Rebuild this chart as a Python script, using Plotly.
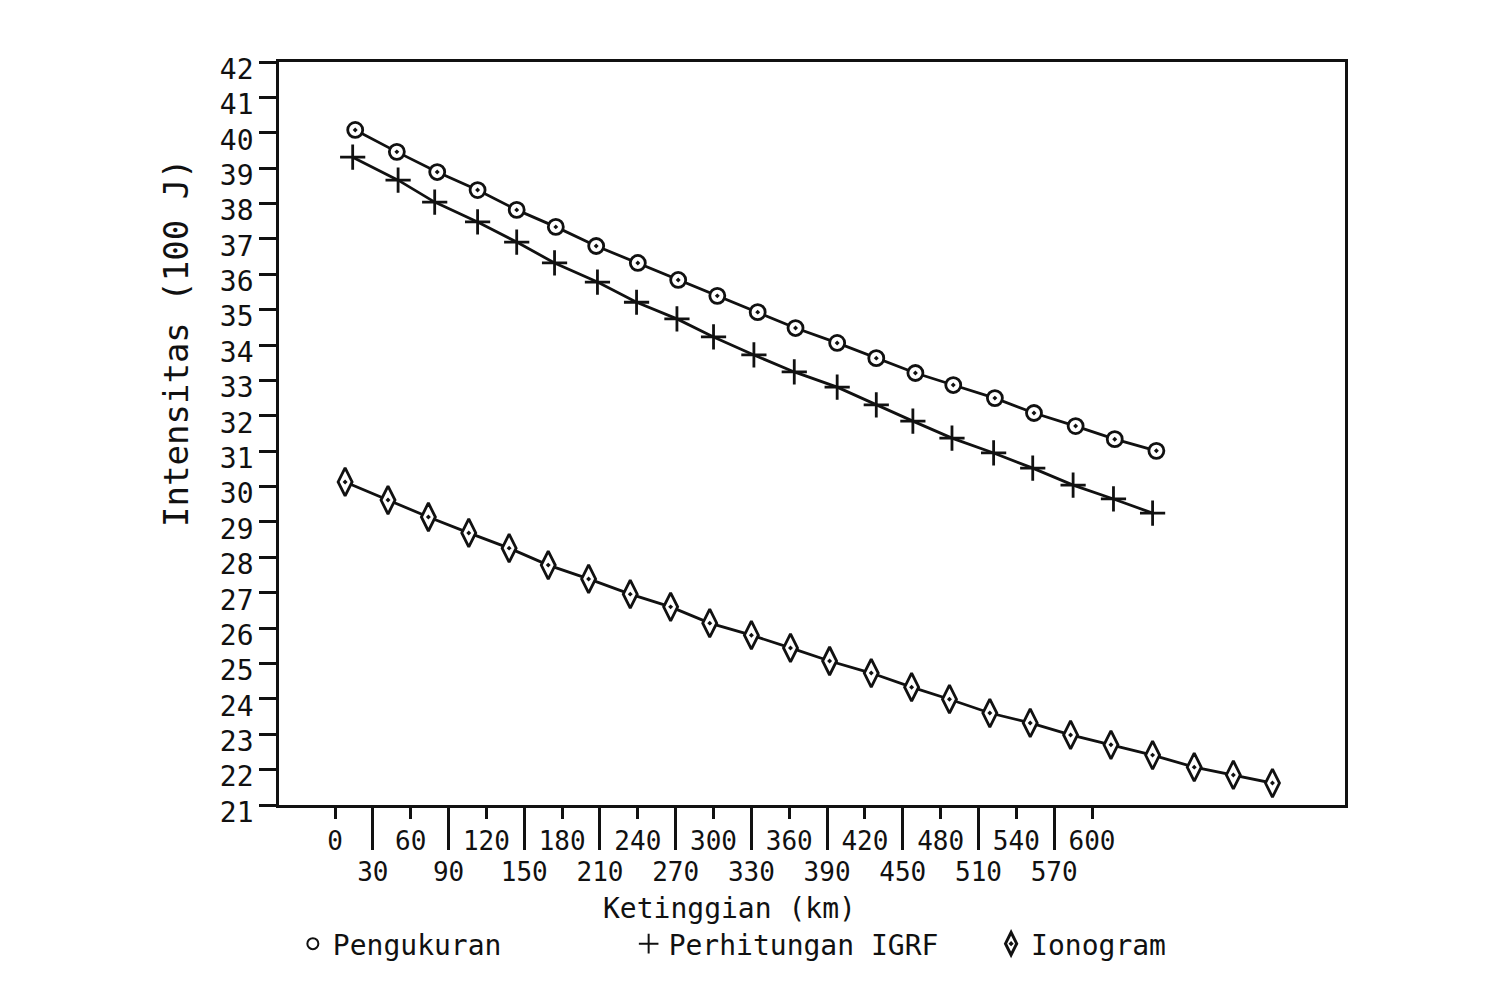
import plotly.graph_objects as go

# ---- data ----
# Pengukuran (measurement)
peng_km = [16, 49, 81, 113, 144, 175, 207, 240, 272, 303, 335, 365, 398, 429, 460, 490, 523, 554, 587, 618, 651]
peng_val = [40.08, 39.46, 38.89, 38.38, 37.82, 37.34, 36.80, 36.32, 35.84, 35.39, 34.93,
            34.48, 34.06, 33.63, 33.21, 32.87, 32.50, 32.08, 31.71, 31.34, 31.01]

# Perhitungan IGRF
igrf_km = [14, 50, 79, 113, 144, 174, 208, 239, 271, 300, 332, 364, 398, 429, 458, 489, 522, 553, 585, 617, 648]
igrf_val = [39.31, 38.66, 38.04, 37.48, 36.91, 36.32, 35.78, 35.21, 34.74, 34.23, 33.72,
            33.24, 32.81, 32.31, 31.85, 31.37, 30.95, 30.52, 30.04, 29.65, 29.25]

# Ionogram
iono_km = [8, 42, 74, 106, 138, 169, 201, 234, 266, 297, 330, 361, 392, 425, 457, 487,
           519, 551, 583, 615, 648, 681, 712, 743]
iono_val = [30.13, 29.62, 29.14, 28.69, 28.26, 27.78, 27.39, 26.96, 26.60, 26.14, 25.80, 25.44,
            25.07, 24.73, 24.33, 23.99, 23.60, 23.32, 22.98, 22.70, 22.41, 22.07, 21.85, 21.62]

y_ticks = list(range(21, 43))
x_ticks_row1 = [0, 60, 120, 180, 240, 300, 360, 420, 480, 540, 600]
x_ticks_row2 = [30, 90, 150, 210, 270, 330, 390, 450, 510, 570]

series_names = ["Pengukuran", "Perhitungan IGRF", "Ionogram"]
x_title = "Ketinggian (km)"
y_title = "Intensitas (100 J)"

FONT = "DejaVu Sans Mono"
INK = "#111111"
X_RANGE = [-44.4, 800.5]

fig = go.Figure()

fig.add_trace(go.Scatter(
    x=peng_km, y=peng_val, mode="lines+markers", showlegend=False,
    line=dict(color=INK, width=2.8),
    marker=dict(symbol="circle-dot", size=15, color="white", line=dict(color=INK, width=2.8)),
))
fig.add_trace(go.Scatter(
    x=igrf_km, y=igrf_val, mode="lines+markers", showlegend=False, xaxis="x2",
    line=dict(color=INK, width=2.8),
    marker=dict(symbol="cross-thin", size=18, color=INK, line=dict(color=INK, width=2.8)),
))
fig.add_trace(go.Scatter(
    x=iono_km, y=iono_val, mode="lines+markers", showlegend=False,
    line=dict(color=INK, width=2.8),
    marker=dict(symbol="diamond-tall-dot", size=20, color="white", line=dict(color=INK, width=2.8)),
))

# legend-only entries
leg_styles = [
    dict(symbol="circle-open", size=11, color=INK, line=dict(color=INK, width=2)),
    dict(symbol="cross-thin", size=14, color=INK, line=dict(color=INK, width=2)),
    dict(symbol="diamond-tall-dot", size=17, color="white", line=dict(color=INK, width=3)),
]
for i, (name, st) in enumerate(zip(series_names, leg_styles)):
    fig.add_trace(go.Scatter(
        x=[None], y=[None], mode="markers", name=name, marker=st,
        legend="legend" if i == 0 else f"legend{i+1}",
    ))

axis_common = dict(showgrid=False, zeroline=False)

# the page body adds an 8px offset; margins compensate for it
fig.update_layout(
    width=1486, height=996,
    margin=dict(l=271, r=149, t=54, b=199),
    paper_bgcolor="white", plot_bgcolor="white",
    font=dict(family=FONT, size=26, color=INK),
    xaxis=dict(
        **axis_common, range=X_RANGE,
        tickmode="array", tickvals=x_ticks_row1, ticktext=[str(v) for v in x_ticks_row1],
        ticks="outside", ticklen=11, tickwidth=2.5, tickcolor=INK,
        showline=True, linecolor=INK, linewidth=2.8, mirror=True,
        tickfont=dict(family=FONT, size=26, color=INK),
    ),
    xaxis2=dict(
        **axis_common, range=X_RANGE, overlaying="x", anchor="y", side="bottom",
        tickmode="array", tickvals=x_ticks_row2, ticktext=[str(v) for v in x_ticks_row2],
        ticks="outside", ticklen=44, tickwidth=2.5, tickcolor=INK,
        showline=False,
        tickfont=dict(family=FONT, size=26, color=INK),
    ),
    yaxis=dict(
        **axis_common, range=[21, 42],
        tickmode="array", tickvals=y_ticks, ticktext=[str(v) for v in y_ticks],
        ticks="outside", ticklen=17, tickwidth=2.5, tickcolor=INK,
        showline=True, linecolor=INK, linewidth=2.8, mirror=True,
        ticklabelshift=7,
        tickfont=dict(family=FONT, size=28, color=INK),
    ),
    legend=dict(x=0.013, y=-0.187, xanchor="left", yanchor="middle", orientation="h",
                font=dict(family=FONT, size=28, color=INK), bgcolor="rgba(0,0,0,0)"),
    legend2=dict(x=0.328, y=-0.187, xanchor="left", yanchor="middle", orientation="h",
                 font=dict(family=FONT, size=28, color=INK), bgcolor="rgba(0,0,0,0)"),
    legend3=dict(x=0.668, y=-0.187, xanchor="left", yanchor="middle", orientation="h",
                 font=dict(family=FONT, size=28, color=INK), bgcolor="rgba(0,0,0,0)"),
    annotations=[
        dict(text=x_title, xref="paper", yref="paper", x=0.423, y=-0.139,
             xanchor="center", yanchor="middle", showarrow=False,
             font=dict(family=FONT, size=28, color=INK)),
        dict(text=y_title, xref="paper", yref="paper", x=-0.0966, y=0.622,
             xanchor="center", yanchor="middle", showarrow=False, textangle=-90,
             font=dict(family=FONT, size=34, color=INK)),
    ],
)

fig.write_html("out.html")
